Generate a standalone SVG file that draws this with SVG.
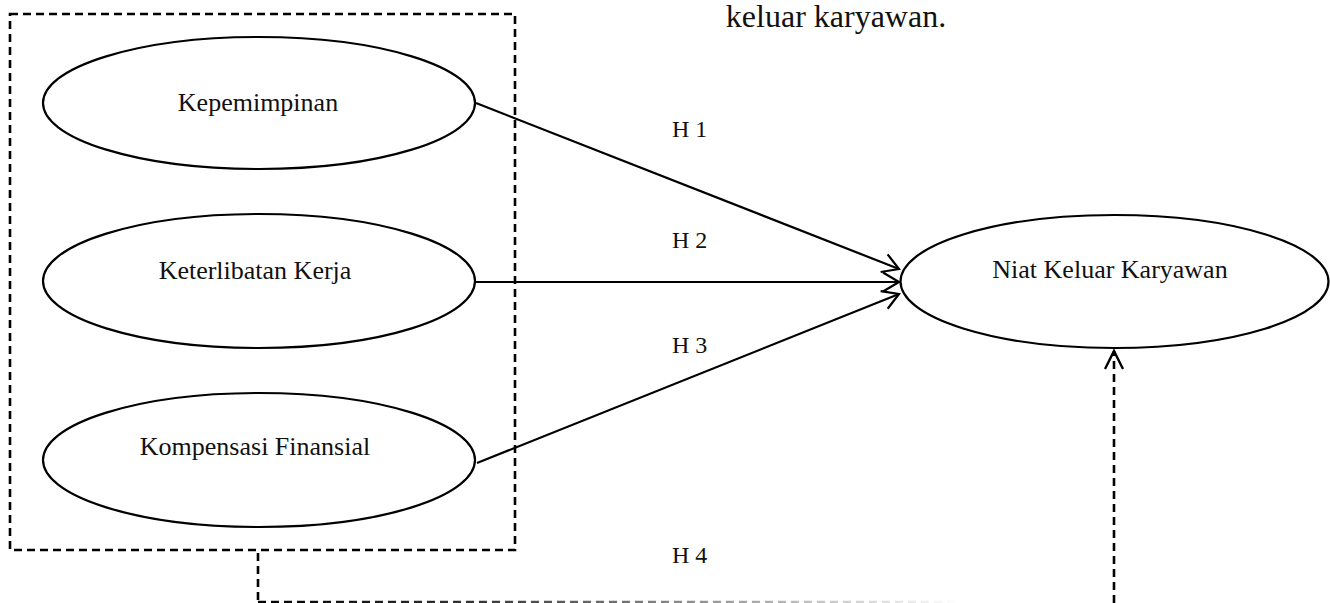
<svg xmlns="http://www.w3.org/2000/svg" width="1330" height="603" viewBox="0 0 1330 603">
<defs>
<style>
.node ellipse{fill:#fff;stroke:#000;stroke-width:2.2}
.lbl{font-family:"Liberation Serif","Times New Roman",serif;font-size:26px;fill:#111;text-anchor:middle}
.h{font-family:"Liberation Serif","Times New Roman",serif;font-size:24px;fill:#111}
.solid{stroke:#000;stroke-width:2.2;fill:none}
.dash{stroke:#000;stroke-width:2.6;fill:none;stroke-dasharray:8 5}
</style>
<marker id="arr" markerUnits="userSpaceOnUse" markerWidth="30" markerHeight="30" refX="0" refY="0" viewBox="-20 -15 25 30" orient="auto">
<path d="M-16,-9.5 L0,0 L-16,9.5" fill="none" stroke="#000" stroke-width="2.2"/>
</marker>
<marker id="arr2" markerUnits="userSpaceOnUse" markerWidth="30" markerHeight="30" refX="0" refY="0" viewBox="-25 -15 30 30" orient="auto">
<path d="M-18,-9 L0,0 L-18,9" fill="none" stroke="#000" stroke-width="2.4"/>
</marker>
<linearGradient id="fade" gradientUnits="userSpaceOnUse" x1="258" y1="0" x2="960" y2="0">
<stop offset="0" stop-color="#000"/>
<stop offset="0.3" stop-color="#333"/>
<stop offset="1" stop-color="#fff"/>
</linearGradient>
</defs>
<rect width="1330" height="603" fill="#fff"/>
<text class="lbl" x="836" y="27" style="font-size:32px">keluar karyawan.</text>
<rect id="group-box" x="10" y="14" width="505" height="536" class="dash"/>
<g id="connectors">
<line class="solid" x1="476" y1="103" x2="899" y2="269" marker-end="url(#arr)"/>
<line class="solid" x1="476" y1="282" x2="899" y2="282" marker-end="url(#arr)"/>
<line class="solid" x1="477" y1="463" x2="899" y2="294" marker-end="url(#arr)"/>
<path class="dash" d="M258,553 L258,602" />
<path d="M258,602 L980,602" fill="none" stroke="url(#fade)" stroke-width="2.6" stroke-dasharray="8 5"/>
<line class="dash" x1="1114" y1="603" x2="1114" y2="351" marker-end="url(#arr2)"/>
<text class="h" x="672" y="137">H 1</text>
<text class="h" x="672" y="248">H 2</text>
<text class="h" x="672" y="353">H 3</text>
<text class="h" x="672" y="563">H 4</text>
</g>
<g id="kepemimpinan" class="node">
<ellipse cx="259" cy="103" rx="216" ry="66"/>
<text class="lbl" x="258" y="111">Kepemimpinan</text>
</g>
<g id="keterlibatan" class="node">
<ellipse cx="259" cy="281" rx="216" ry="67"/>
<text class="lbl" x="255" y="279">Keterlibatan Kerja</text>
</g>
<g id="kompensasi" class="node">
<ellipse cx="259" cy="460" rx="216" ry="67"/>
<text class="lbl" x="255" y="455">Kompensasi Finansial</text>
</g>
<g id="niat" class="node">
<ellipse cx="1114.5" cy="281.5" rx="214" ry="66.5"/>
<text class="lbl" x="1110" y="278">Niat Keluar Karyawan</text>
</g>
</svg>
